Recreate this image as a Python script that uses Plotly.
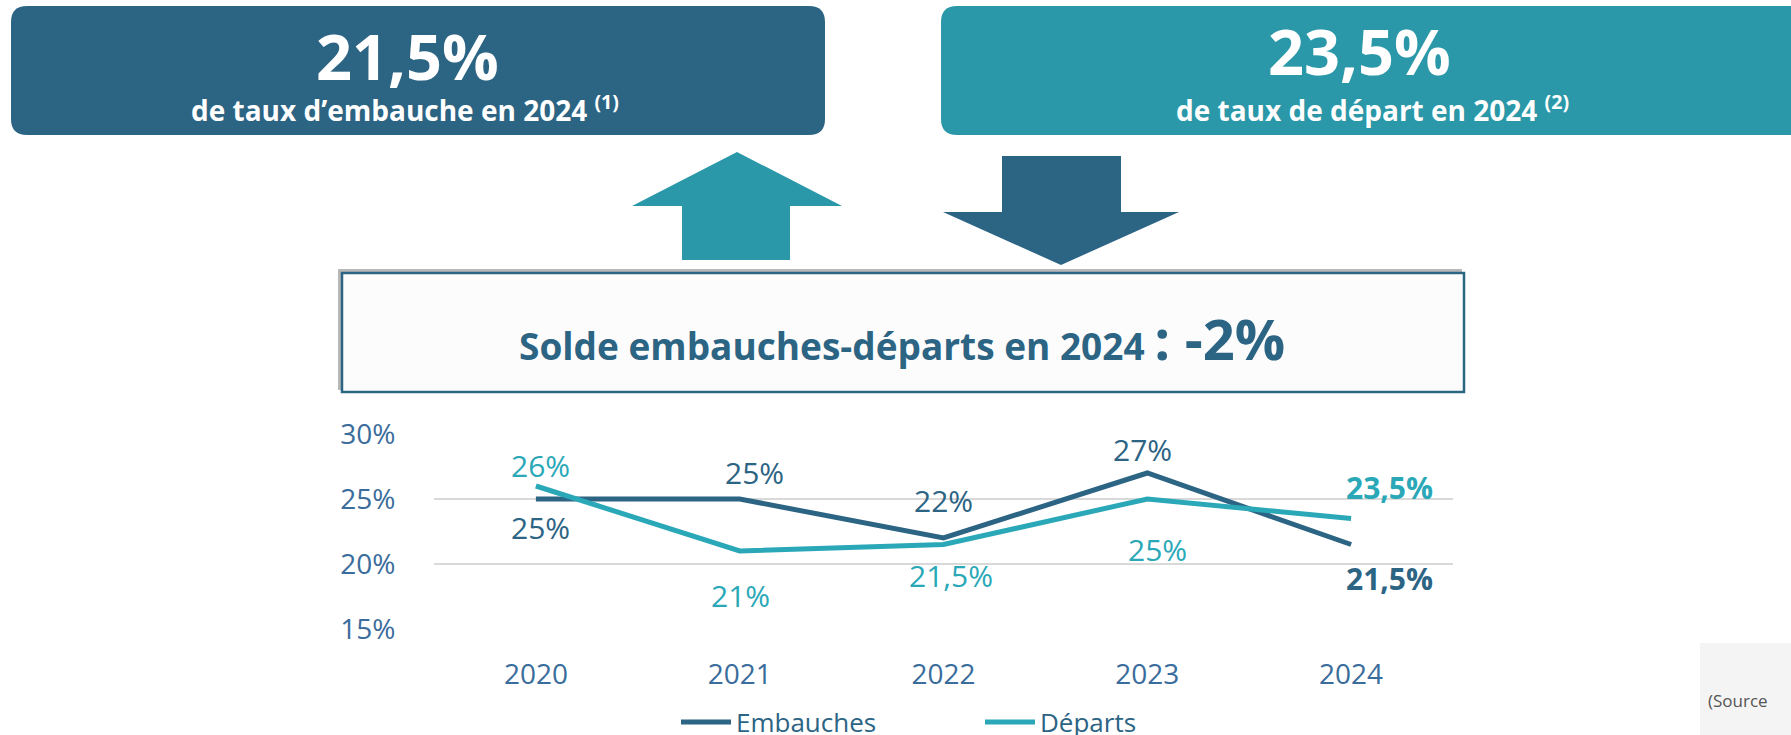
import plotly.graph_objects as go

years = ["2020", "2021", "2022", "2023", "2024"]
embauches = [25, 25, 22, 27, 21.5]
departs = [26, 21, 21.5, 25, 23.5]
embauches_labels = ["25%", "25%", "22%", "27%", "21,5%"]
departs_labels = ["26%", "21%", "21,5%", "25%", "23,5%"]
y_ticks = [15, 20, 25, 30]
y_tick_labels = ["15%", "20%", "25%", "30%"]

DARK = "#2C6484"
TEAL = "#2AA8B8"
TEAL_BOX = "#2A98A8"
AXIS_TXT = "#3A6C9C"
FONT = "Open Sans"

W, H = 1791, 735
L, R, T, B = 434, 1453, 434, 629


def px(x):
    return (x - L) / (R - L)


def py(y):
    return (B - y) / (B - T)


def rounded_rect(x0, y0, x1, y1, r):
    rx = r / (R - L)
    ry = r / (B - T)
    X0, X1 = px(x0), px(x1)
    Yt, Yb = py(y0), py(y1)
    return (f"M {X0+rx},{Yt} L {X1-rx},{Yt} Q {X1},{Yt} {X1},{Yt-ry} "
            f"L {X1},{Yb+ry} Q {X1},{Yb} {X1-rx},{Yb} L {X0+rx},{Yb} "
            f"Q {X0},{Yb} {X0},{Yb+ry} L {X0},{Yt-ry} Q {X0},{Yt} {X0+rx},{Yt} Z")


def poly(points):
    s = "M " + " L ".join(f"{px(a)},{py(b)}" for a, b in points) + " Z"
    return s


fig = go.Figure()
fig.add_trace(go.Scatter(x=years, y=embauches, mode="lines", name="Embauches",
                         line=dict(color=DARK, width=5)))
fig.add_trace(go.Scatter(x=years, y=departs, mode="lines", name="Départs",
                         line=dict(color=TEAL, width=5)))

shapes = []
shapes.append(dict(type="path", xref="paper", yref="paper",
                   path=rounded_rect(11, 6, 825, 135, 16),
                   fillcolor=DARK, line=dict(width=0), layer="below"))
shapes.append(dict(type="path", xref="paper", yref="paper",
                   path=rounded_rect(941, 6, 1820, 135, 16),
                   fillcolor=TEAL_BOX, line=dict(width=0), layer="below"))
shapes.append(dict(type="path", xref="paper", yref="paper",
                   path=poly([(737, 152), (842, 206), (790, 206), (790, 260),
                              (682, 260), (682, 206), (632, 206)]),
                   fillcolor=TEAL_BOX, line=dict(width=0), layer="below"))
shapes.append(dict(type="path", xref="paper", yref="paper",
                   path=poly([(1002, 156), (1121, 156), (1121, 212), (1179, 212),
                              (1061, 265), (943, 212), (1002, 212)]),
                   fillcolor=DARK, line=dict(width=0), layer="below"))
shapes.append(dict(type="rect", xref="paper", yref="paper",
                   x0=px(338), x1=px(1462), y0=py(269), y1=py(390),
                   fillcolor="#B8B8B8", line=dict(width=0), layer="below"))
shapes.append(dict(type="rect", xref="paper", yref="paper",
                   x0=px(342), x1=px(1464), y0=py(273), y1=py(392),
                   fillcolor="#FCFCFC", line=dict(color=DARK, width=2.5), layer="below"))
shapes.append(dict(type="rect", xref="paper", yref="paper",
                   x0=px(1700), x1=px(1800), y0=py(643), y1=py(745),
                   fillcolor="#F4F4F4", line=dict(width=0), layer="below"))

annotations = []


def ptext(x, y, text, size, color, xanchor="center"):
    annotations.append(dict(xref="paper", yref="paper", x=px(x), y=py(y), text=text,
                            showarrow=False, xanchor=xanchor, yanchor="middle",
                            font=dict(family=FONT, size=size, color=color)))


ptext(407, 56, "<b>21,5%</b>", 63, "white")
ptext(405, 108, "<b>de taux d’embauche en 2024 <sup>(1)</sup></b>", 28, "white")
ptext(1359, 50, "<b>23,5%</b>", 63, "white")
ptext(1372, 108, "<b>de taux de départ en 2024 <sup>(2)</sup></b>", 28, "white")
ptext(902, 338, "<b>Solde embauches-départs en 2024 <span style='font-size:56px'>: -2%</span></b>",
      37, DARK)
ptext(1706, 700, "(Source", 17, "#555555", xanchor="left")

emb_off = [(5, 28, False), (15, -27, False), (0, -38, False), (-5, -24, False), (38, 34, True)]
dep_off = [(5, -21, False), (1, 44, False), (7, 31, False), (10, 50, False), (38, -31, True)]
for i, v in enumerate(embauches):
    dx, dy, b = emb_off[i]
    t = embauches_labels[i]
    annotations.append(dict(xref="x", yref="y", x=i, y=v,
                            text=f"<b>{t}</b>" if b else t, showarrow=False,
                            xanchor="center", yanchor="middle",
                            xshift=dx, yshift=-dy,
                            font=dict(family=FONT, size=30, color=DARK)))
for i, v in enumerate(departs):
    dx, dy, b = dep_off[i]
    t = departs_labels[i]
    annotations.append(dict(xref="x", yref="y", x=i, y=v,
                            text=f"<b>{t}</b>" if b else t, showarrow=False,
                            xanchor="center", yanchor="middle",
                            xshift=dx, yshift=-dy,
                            font=dict(family=FONT, size=30, color=TEAL)))

fig.update_layout(
    width=W, height=H,
    margin=dict(l=L, r=W - R, t=T, b=H - B, pad=0, autoexpand=False),
    paper_bgcolor="white", plot_bgcolor="white",
    shapes=shapes, annotations=annotations,
    showlegend=True,
    legend=dict(orientation="h", x=px(676), y=py(722), xanchor="left", yanchor="middle",
                font=dict(family=FONT, size=26, color=DARK), itemwidth=50,
                entrywidth=239, entrywidthmode="pixels",
                tracegroupgap=0, bgcolor="rgba(0,0,0,0)"),
    xaxis=dict(type="category", range=[-0.5, 4.5], showgrid=False, zeroline=False,
               showline=False, ticks="outside", ticklen=20, tickcolor="rgba(0,0,0,0)",
               tickfont=dict(family=FONT, size=28, color=AXIS_TXT)),
    yaxis=dict(range=[15, 30], tickvals=y_ticks, ticktext=y_tick_labels,
               showgrid=True, gridcolor="#D9D9D9", gridwidth=2, zeroline=False,
               showline=False, ticks="outside", ticklen=32, tickcolor="rgba(0,0,0,0)",
               tickfont=dict(family=FONT, size=28, color=AXIS_TXT)),
)

fig.write_html("out.html", config={"displayModeBar": False},
               post_script="document.body.style.margin='0';")
